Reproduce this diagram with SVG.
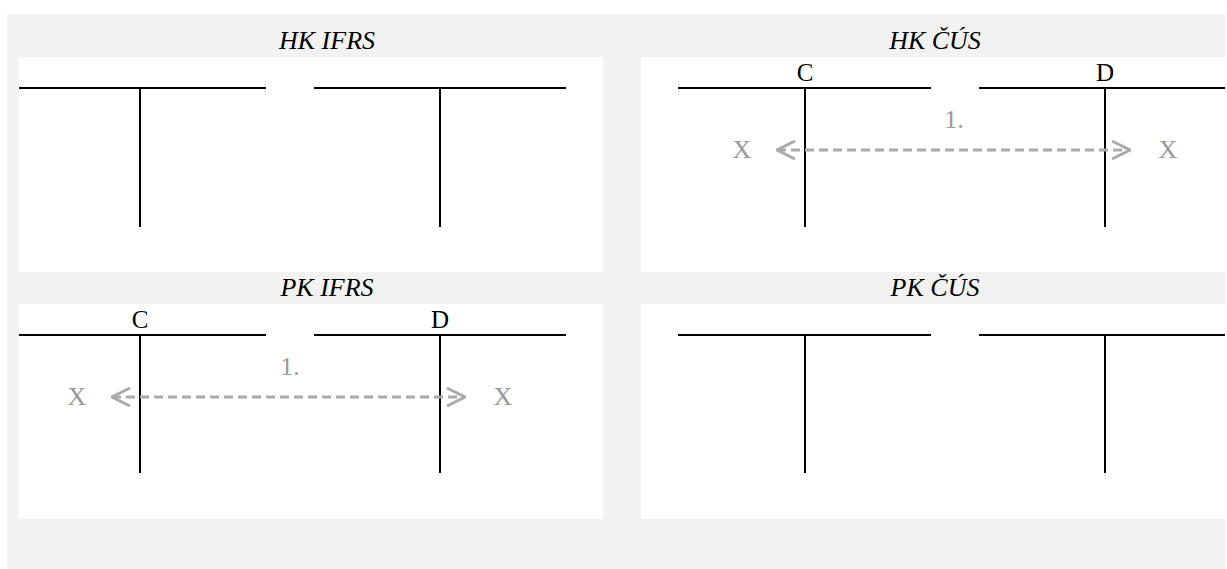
<svg xmlns="http://www.w3.org/2000/svg" width="1227" height="569" viewBox="0 0 1227 569">
<style>
.bg{fill:#f2f2f2}
.panel{fill:#ffffff}
.title{font-family:"Liberation Serif","Times New Roman",serif;font-style:italic;font-size:26px;fill:#000;text-anchor:middle}
.lbl{font-family:"Liberation Serif","Times New Roman",serif;font-size:25px;fill:#000;text-anchor:middle}
.glbl{font-family:"Liberation Serif","Times New Roman",serif;font-size:26px;fill:#999;text-anchor:middle}
.t{stroke:#000;stroke-width:2;fill:none}
.arr{stroke:#aaa;stroke-width:3;fill:none;stroke-dasharray:9 5;marker-start:url(#ah);marker-end:url(#ah)}
</style>
<defs>
<marker id="ah" viewBox="0 0 20 24" refX="19" refY="12" markerWidth="20" markerHeight="24" markerUnits="userSpaceOnUse" orient="auto-start-reverse">
<path d="M1 3 L19 12 L1 21" fill="none" stroke="#aaa" stroke-width="3"/>
</marker>
</defs>
<rect class="bg" x="7" y="14" width="1218" height="555"/>
<g id="hk-ifrs">
<rect class="panel" x="19" y="57" width="584" height="215"/>
<text class="title" x="327" y="49">HK IFRS</text>
<path class="t" d="M19 88 H266 M140 88 V227 M314 88 H566 M440 88 V227"/>
</g>
<g id="hk-cus">
<rect class="panel" x="641" y="57" width="584" height="215"/>
<text class="title" x="935" y="49">HK ČÚS</text>
<text class="lbl" x="805" y="81">C</text>
<text class="lbl" x="1105" y="81">D</text>
<path class="t" d="M678 88 H931 M805 88 V227 M979 88 H1225 M1105 88 V227"/>
<text class="glbl" x="954" y="128">1.</text>
<text class="glbl" x="742" y="158">X</text>
<text class="glbl" x="1168" y="158">X</text>
</g>
<g id="pk-ifrs">
<rect class="panel" x="19" y="304" width="584" height="215"/>
<text class="title" x="327" y="296">PK IFRS</text>
<text class="lbl" x="140" y="328">C</text>
<text class="lbl" x="440" y="328">D</text>
<path class="t" d="M19 335 H266 M140 335 V473 M314 335 H566 M440 335 V473"/>
<text class="glbl" x="290" y="375">1.</text>
<text class="glbl" x="77" y="405">X</text>
<text class="glbl" x="503" y="405">X</text>
</g>
<g id="pk-cus">
<rect class="panel" x="641" y="304" width="584" height="215"/>
<text class="title" x="935" y="296">PK ČÚS</text>
<path class="t" d="M678 335 H931 M805 335 V473 M979 335 H1225 M1105 335 V473"/>
</g>
<g id="connectors">
<path class="arr" d="M777 150 H1130"/>
<path class="arr" d="M112 397 H465"/>
</g>
</svg>
